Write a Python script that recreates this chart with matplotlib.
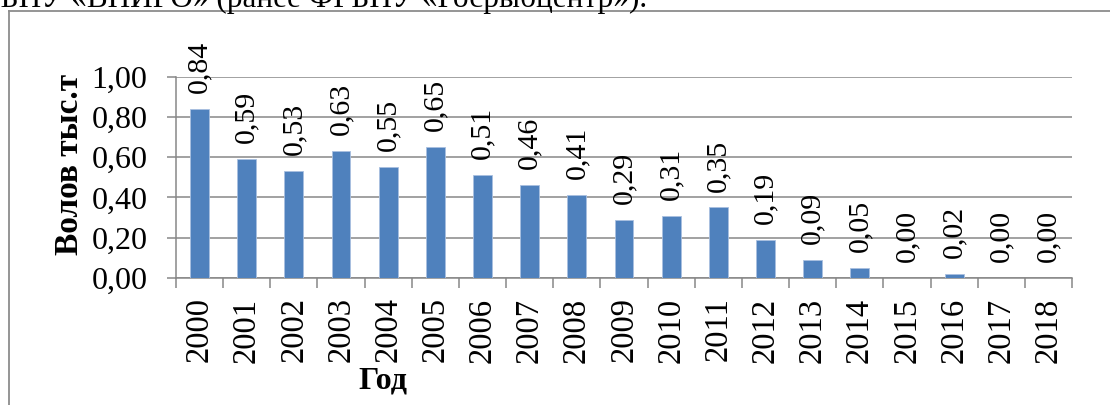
import matplotlib
matplotlib.use("Agg")
import matplotlib.pyplot as plt
from matplotlib.lines import Line2D
from matplotlib.ticker import FuncFormatter, FixedLocator
import numpy as np

# Данные
years = ["2000", "2001", "2002", "2003", "2004", "2005", "2006", "2007", "2008", "2009",
         "2010", "2011", "2012", "2013", "2014", "2015", "2016", "2017", "2018"]
catch = [0.84, 0.59, 0.53, 0.63, 0.55, 0.65, 0.51, 0.46, 0.41, 0.29,
         0.31, 0.35, 0.19, 0.09, 0.05, 0.00, 0.02, 0.00, 0.00]
y_ticks = [0.0, 0.2, 0.4, 0.6, 0.8, 1.0]

W, H = 1110, 405
plt.rcParams["font.family"] = ["Liberation Serif", "DejaVu Serif"]
fig = plt.figure(figsize=(W / 100, H / 100), dpi=100)

grid_c = "#878787"
bar_c = "#4F81BD"

ax = fig.add_axes([176 / W, 1 - 278 / H, (1072 - 176) / W, (278 - 76.5) / H])
x = np.arange(len(years))
ax.bar(x, catch, width=0.40, color=bar_c, edgecolor="#a9c0e0", linewidth=0.6, zorder=3)

ax.set_xlim(-0.5, len(years) - 0.5)
ax.set_ylim(0, 1.0)
ax.yaxis.set_major_locator(FixedLocator(y_ticks))
ax.yaxis.set_major_formatter(FuncFormatter(lambda v, p: f"{v:.2f}".replace(".", ",")))
ax.grid(axis="y", color=grid_c, linewidth=1.1, zorder=0)
ax.set_axisbelow(True)

for s in ("top", "right"):
    ax.spines[s].set_visible(False)
for s in ("left", "bottom"):
    ax.spines[s].set_color(grid_c)
    ax.spines[s].set_linewidth(1.1)

ax.tick_params(axis="y", length=6.5, width=1.1, color=grid_c, pad=14, labelsize=23)
ax.set_xticks(x)
ax.set_xticklabels(years, rotation=90, fontsize=23.5)
ax.tick_params(axis="x", which="major", length=0, pad=14)
ax.set_xticks(np.arange(len(years) + 1) - 0.5, minor=True)
ax.tick_params(axis="x", which="minor", length=7, width=1.1, color=grid_c)

for xi, v in zip(x, catch):
    ax.annotate(f"{v:.2f}".replace(".", ","), (xi, v), xytext=(0, 11.5),
                textcoords="offset points", rotation=90, ha="center", va="bottom",
                fontsize=21.5)

fig.text(69 / W, 1 - 164 / H, "Волов тыс.т", rotation=90, ha="center", va="center",
         fontsize=24, fontweight="bold")
fig.text(383 / W, 1 - 381 / H, "Год", ha="center", va="center",
         fontsize=23, fontweight="bold")

# Рамка области диаграммы
fig.add_artist(Line2D([8.5 / W, 1.0], [1 - 10.7 / H, 1 - 10.7 / H], color="#8c8c8c", linewidth=1.3))
fig.add_artist(Line2D([8.5 / W, 8.5 / W], [0, 1 - 10.7 / H], color="#8c8c8c", linewidth=1.3))

# Строка текста документа над диаграммой
fig.text(647 / W, 1 - 7.5 / H, "ФГБНУ «ВНИРО» (ранее ФГБНУ «Госрыбцентр»).",
         ha="right", va="baseline", fontsize=22.5)

fig.savefig("out.png", dpi=100)
